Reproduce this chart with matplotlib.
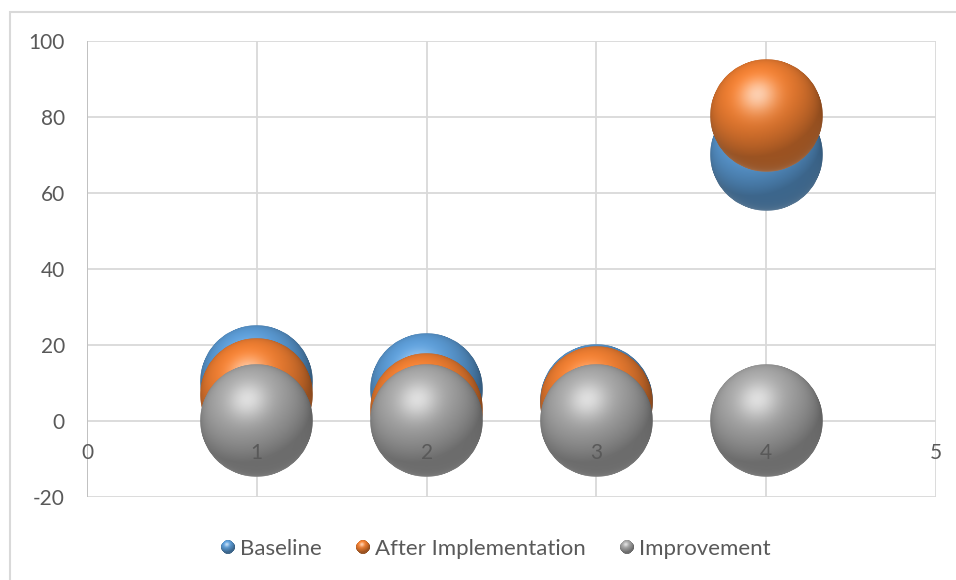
import numpy as np
import matplotlib
matplotlib.use("Agg")
import matplotlib.pyplot as plt
from matplotlib.colors import to_rgb
from matplotlib.offsetbox import OffsetImage, AnnotationBbox
from matplotlib.legend_handler import HandlerBase
from matplotlib.image import BboxImage
from matplotlib.transforms import Bbox, TransformedBbox
from matplotlib.patches import Rectangle

# ---- data -------------------------------------------------------------
x_values = [1, 2, 3, 4]
baseline = [10.4, 8.2, 5.5, 70.0]
after_implementation = [7.0, 2.9, 4.9, 80.5]
improvement = [0.0, 0.0, 0.0, 0.0]

series_names = ["Baseline", "After Implementation", "Improvement"]
series_colors = ["#5B9BD5", "#ED7D31", "#A5A5A5"]

x_ticks = [0, 1, 2, 3, 4, 5]
y_ticks = [-20, 0, 20, 40, 60, 80, 100]

TEXT = "#595959"
GRID = "#D9D9D9"
FONT = "Lato"

W, H, DPI = 956, 580, 100
BUBBLE_PX = 113  # bubble diameter in pixels


def sphere_image(color, n=240):
    """RGBA image of a shaded sphere in the given base colour."""
    c = np.array(to_rgb(color))
    t = (np.arange(n) + 0.5) / n * 2 - 1
    X, Y = np.meshgrid(t, -t)
    R2 = X ** 2 + Y ** 2
    Z = np.sqrt(np.clip(1 - R2, 0, 1))
    L = np.array([-0.29, 0.68, 0.67])
    L /= np.linalg.norm(L)
    Hv = L + np.array([0, 0, 1.0])
    Hv /= np.linalg.norm(Hv)
    diff = np.clip(X * L[0] + Y * L[1] + Z * L[2], 0, 1)
    spec = np.clip(X * Hv[0] + Y * Hv[1] + Z * Hv[2], 0, 1) ** 18
    rim = np.clip(-Y, 0, 1) * np.clip(1 - Z, 0, 1) ** 3
    edge = 0.78 + 0.22 * np.sqrt(Z)
    shade = (0.68 + 0.42 * diff) * edge
    rgb = c[None, None, :] * shade[..., None]
    rgb = rgb + (0.6 * spec)[..., None] * (1 - rgb)
    rgb = rgb + (0.3 * rim)[..., None] * (1 - rgb)
    rgb = np.clip(rgb, 0, 1)
    alpha = np.clip((1 - np.sqrt(R2)) * n / 2, 0, 1)
    return np.dstack([rgb, alpha])


class SphereHandler(HandlerBase):
    def __init__(self, img):
        super().__init__()
        self.img = img

    def create_artists(self, legend, orig_handle, xdescent, ydescent,
                       width, height, fontsize, trans):
        d = 9.5
        cx = width / 2 - xdescent
        cy = height / 2 - ydescent
        bb = Bbox.from_bounds(cx - d / 2, cy - d / 2, d, d)
        image = BboxImage(TransformedBbox(bb, trans), interpolation="antialiased")
        image.set_data(self.img)
        return [image]


fig = plt.figure(figsize=(W / DPI, H / DPI), dpi=DPI)
fig.patch.set_facecolor("white")

# chart-area frame
fig.patches.append(Rectangle((10 / W, -0.05), 1.2, 1 - 12 / H + 0.05,
                             transform=fig.transFigure, fill=False,
                             edgecolor=GRID, linewidth=1.5))

ax = fig.add_axes([87 / W, (H - 497) / H, 849 / W, 456 / H])
ax.set_xlim(x_ticks[0], x_ticks[-1])
ax.set_ylim(y_ticks[0], y_ticks[-1])
ax.set_xticks(x_ticks)
ax.set_yticks(y_ticks)
ax.grid(True, color=GRID, linewidth=1.3)
ax.set_axisbelow(True)
for s in ax.spines.values():
    s.set_visible(False)
ax.axvline(x_ticks[0], color="#BFBFBF", linewidth=1.3, zorder=0.6)
ax.tick_params(length=0)
ax.set_xticklabels([])
ax.set_yticklabels([f"{v}" for v in y_ticks], color=TEXT,
                   fontsize=15, family=FONT)
ax.tick_params(axis="y", pad=16)

# x labels sit below the y = 0 line and are drawn over the bubbles
for xv in x_ticks:
    ax.annotate(f"{xv}", (xv, 0), xytext=(0, -23), textcoords="offset points",
                ha="center", va="center", color=TEXT, fontsize=15,
                family=FONT, zorder=20, annotation_clip=False)

images = [sphere_image(c) for c in series_colors]
zoom = BUBBLE_PX * 72 / DPI / images[0].shape[1]

for k, ys in enumerate([baseline, after_implementation, improvement]):
    for xv, yv in zip(x_values, ys):
        ab = AnnotationBbox(OffsetImage(images[k], zoom=zoom), (xv, yv),
                            frameon=False, pad=0, box_alignment=(0.5, 0.5))
        ab.set_zorder(3 + k)
        ax.add_artist(ab)

handles = [Rectangle((0, 0), 1, 1) for _ in series_names]
leg = fig.legend(handles, series_names, loc="center",
                 bbox_to_anchor=(495 / W, 1 - 549 / H), ncol=3, frameon=False,
                 handler_map={h: SphereHandler(img) for h, img in zip(handles, images)},
                 handlelength=0.7, handletextpad=0.2, columnspacing=1.5,
                 prop={"family": FONT, "size": 16})
for t in leg.get_texts():
    t.set_color(TEXT)

fig.savefig("out.png", dpi=DPI)
